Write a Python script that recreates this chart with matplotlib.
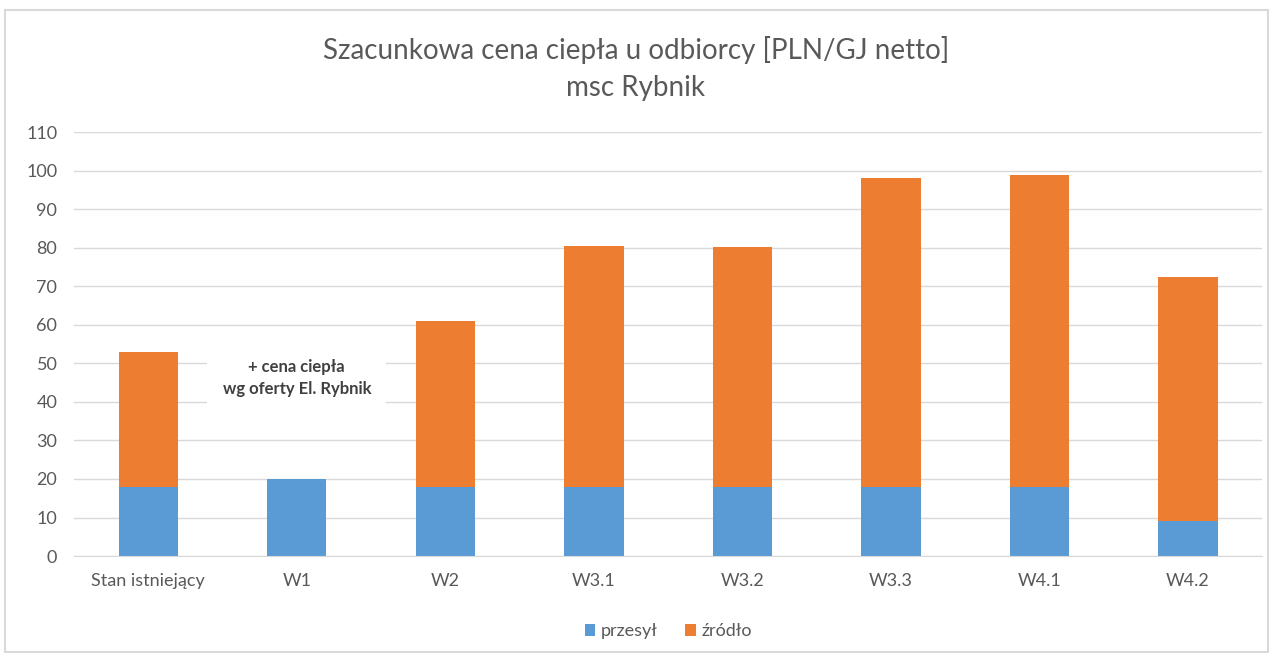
import matplotlib.pyplot as plt
import numpy as np
from matplotlib.patches import Rectangle

plt.rcParams['font.family'] = ['Lato', 'DejaVu Sans']

# dane
kategorie = ['Stan istniejący', 'W1', 'W2', 'W3.1', 'W3.2', 'W3.3', 'W4.1', 'W4.2']
przesyl = [18, 20, 18, 18, 18, 18, 18, 9]
zrodlo = [35, 0, 43, 62.5, 62.3, 80, 81, 63.3]

szary = '#595959'
niebieski = '#5b9bd5'
pomaranczowy = '#ed7d31'

fig = plt.figure(figsize=(12.72, 6.53), dpi=100)
fig.patches.append(Rectangle((0.004, 0.002), 0.993, 0.982, transform=fig.transFigure,
                             fill=False, edgecolor='#d9d9d9', linewidth=1.5))

ax = fig.add_axes([0.0582, 0.1485, 0.934, 0.649])
x = np.arange(len(kategorie))
ax.bar(x, przesyl, width=0.4, color=niebieski, label='przesył', zorder=2)
ax.bar(x, zrodlo, width=0.4, bottom=przesyl, color=pomaranczowy, label='źródło', zorder=2)

ax.set_xlim(-0.5, len(kategorie) - 0.5)
ax.set_ylim(0, 110)
ax.set_yticks(range(0, 111, 10))
ax.set_xticks(x)
ax.set_xticklabels(kategorie)
ax.tick_params(axis='both', length=0, labelsize=13, colors=szary)
ax.tick_params(axis='x', pad=12)
ax.tick_params(axis='y', pad=12)
ax.grid(axis='y', color='#d9d9d9', linewidth=1, zorder=0)
for s in ['top', 'right', 'left']:
    ax.spines[s].set_visible(False)
ax.spines['bottom'].set_color('#d9d9d9')

ax.text(1, 46.2, '+ cena ciepła\nwg oferty El. Rybnik', ha='center', va='center',
        fontsize=12, fontweight='bold', color='#404040', linespacing=1.4, zorder=3,
        bbox=dict(facecolor='white', edgecolor='none', pad=11))

fig.text(0.5, 0.923, 'Szacunkowa cena ciepła u odbiorcy [PLN/GJ netto]', ha='center', va='center',
         fontsize=20, color=szary)
fig.text(0.5, 0.865, 'msc Rybnik', ha='center', va='center', fontsize=20, color=szary)

ax.legend(loc='upper center', bbox_to_anchor=(0.5, -0.12), ncol=2, frameon=False,
          fontsize=13, labelcolor=szary, handlelength=0.6, handleheight=0.6,
          handletextpad=0.3, columnspacing=1.5)

fig.savefig('out.png', dpi=100)
